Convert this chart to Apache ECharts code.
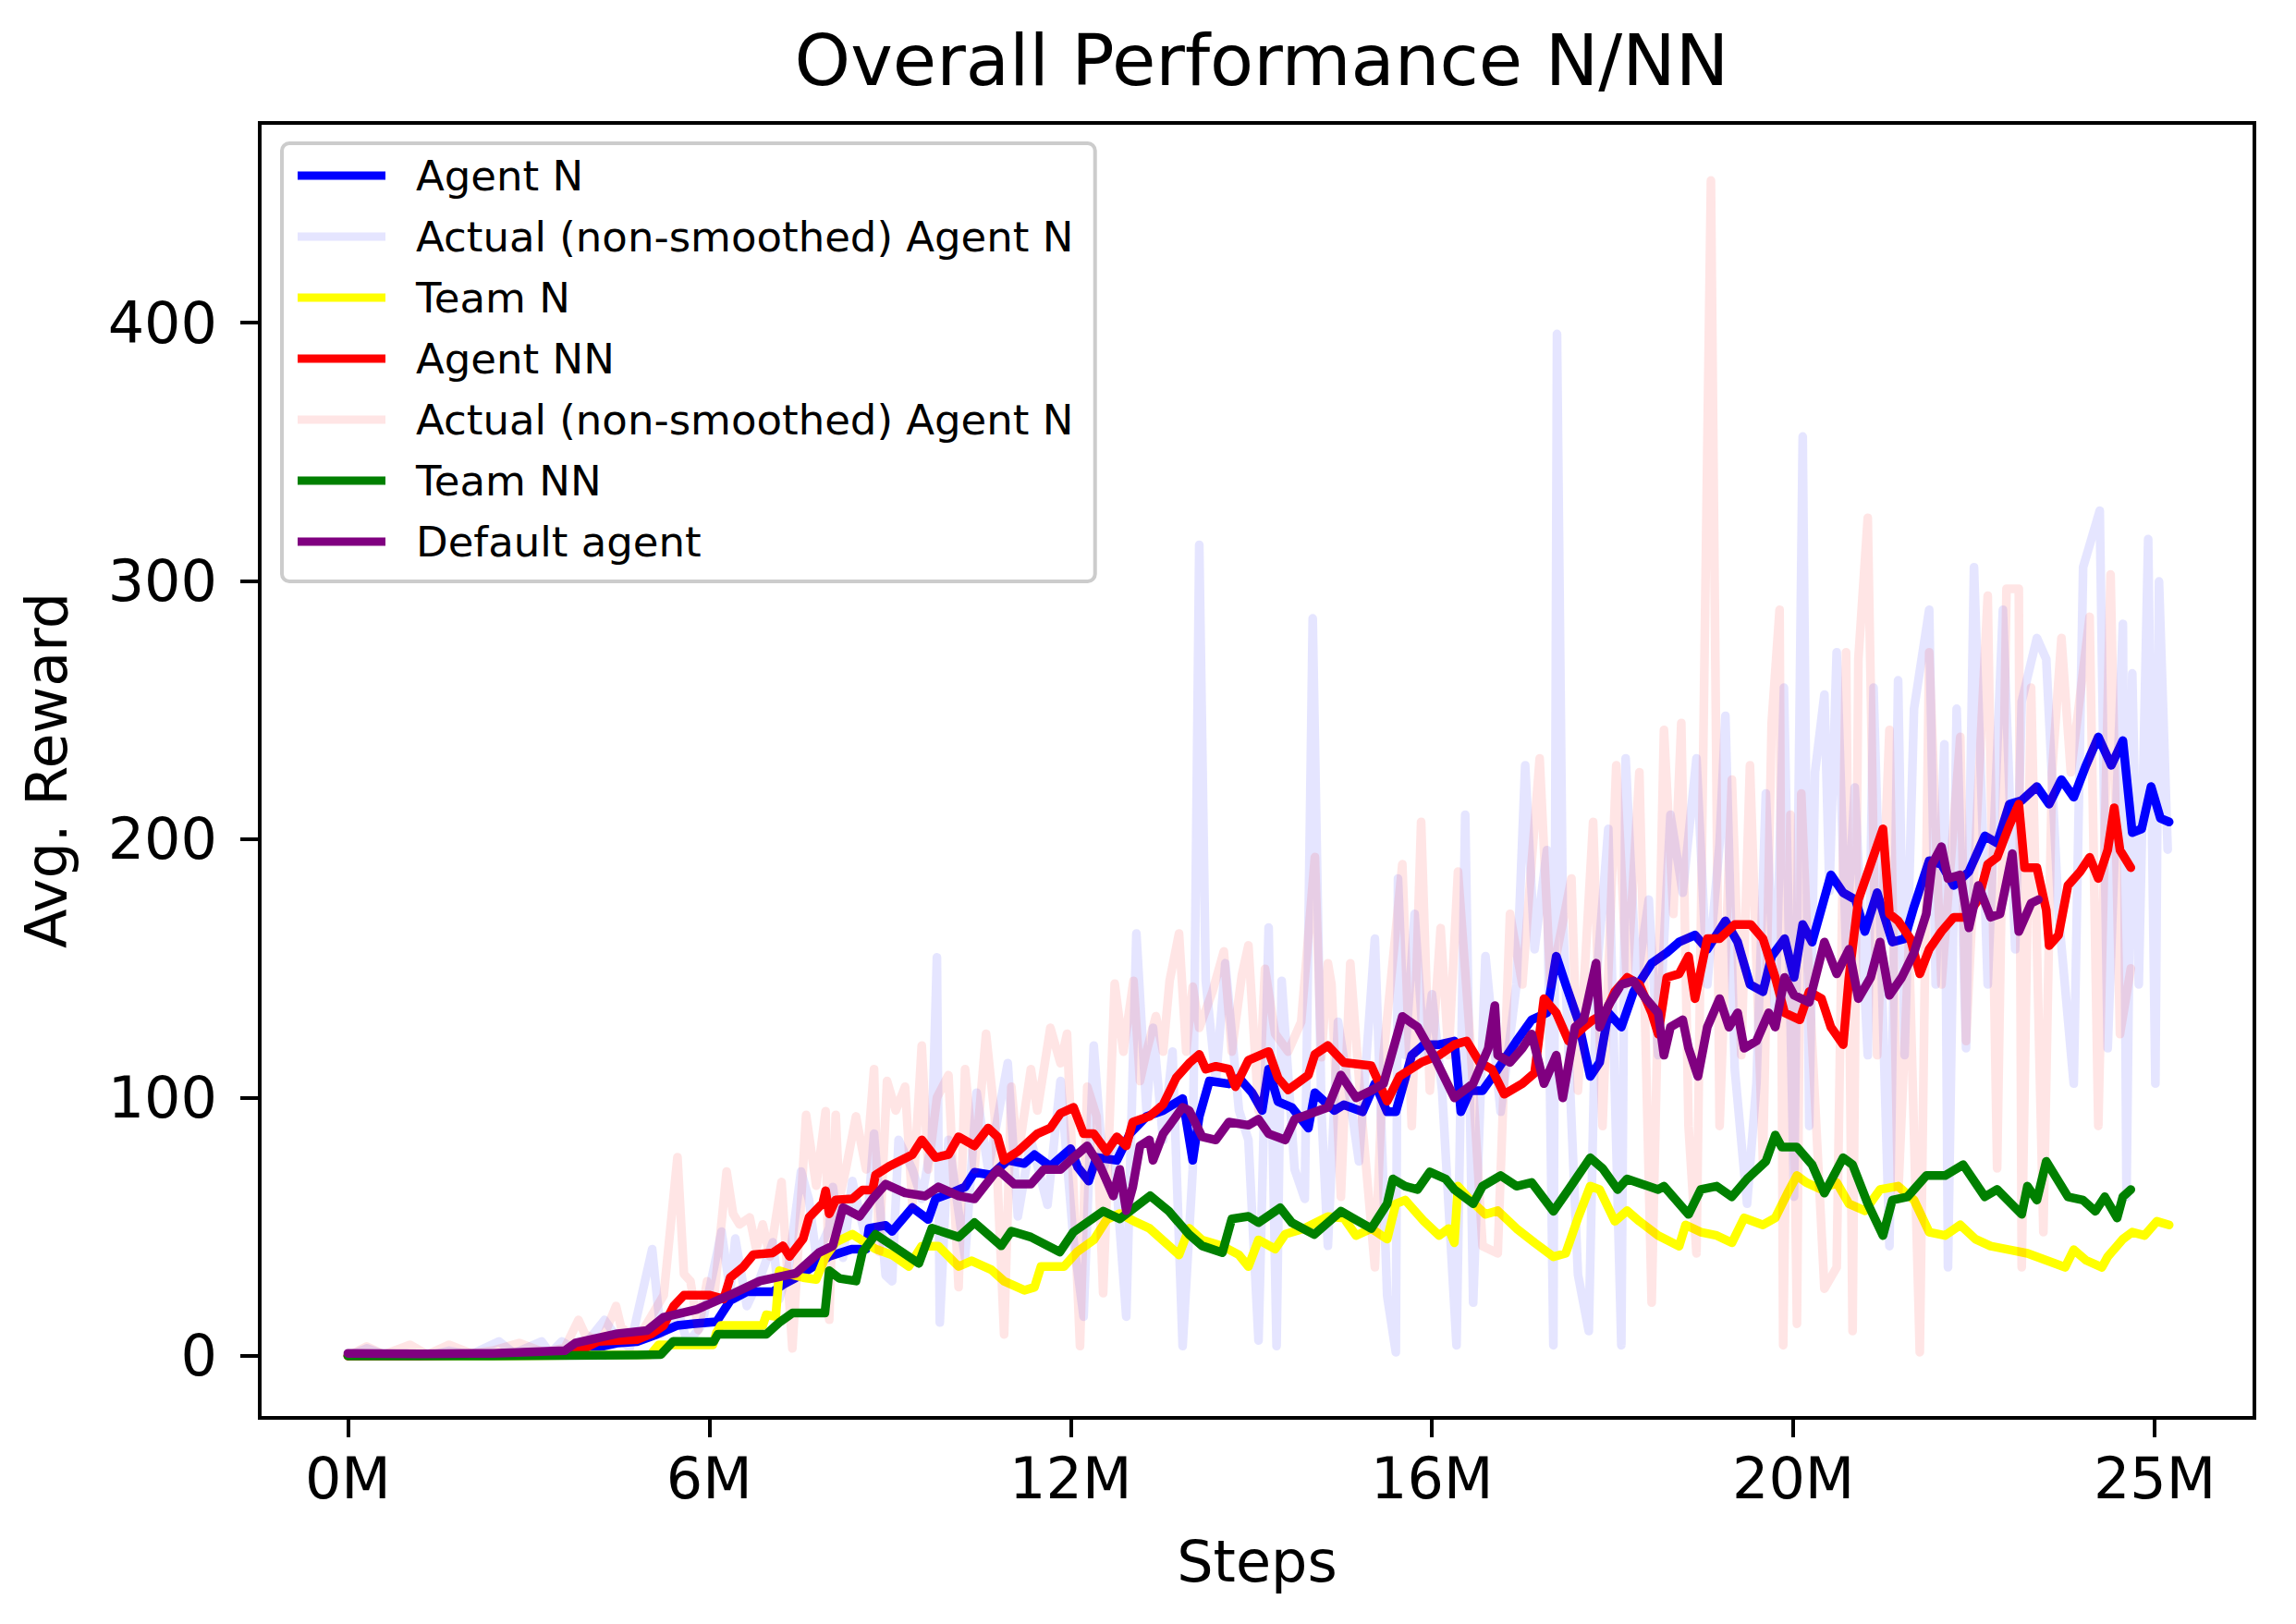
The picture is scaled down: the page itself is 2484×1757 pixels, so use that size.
<!DOCTYPE html>
<html>
<head>
<meta charset="utf-8">
<script src="https://cdn.jsdelivr.net/npm/echarts@6/dist/echarts.min.js"></script>
<style>
html,body{margin:0;padding:0;background:#fff;}
#chart{width:2484px;height:1757px;}
</style>
</head>
<body>
<div id="chart"></div>
<script>
const titleText = 'Overall Performance N/NN';
const xTickValues = [0, 50, 100, 150, 200, 250];
const xTickLabels = ['0M', '6M', '12M', '16M', '20M', '25M'];
const yTickValues = [0, 100, 200, 300, 400];

const agentN = [[0,0],[5,0.2],[10,0.3],[15,0.5],[20,0.8],[25,1],[30,1.5],[34,3],[37.4,5],[40,5.5],[42.8,8.4],[45.6,11.8],[48,12.5],[51,13.2],[52.9,21.4],[55.2,24.8],[58.8,24.8],[60.2,27.6],[62,30.3],[64.3,34.4],[66.6,38.5],[69.7,41.3],[71.7,41.4],[72.1,49.4],[74.4,50.5],[75.3,48.2],[78.1,57.4],[80.3,52.8],[81.3,60.8],[83.5,63.1],[85.4,65.4],[86.7,71.1],[89,70],[91.3,75.7],[93.6,74.5],[95,77.9],[97.2,73.4],[100,80.2],[101,73],[102.5,67.7],[103.6,76.8],[106.4,75.7],[108.2,86],[110.5,92.7],[112.8,95],[115.5,99.6],[116.9,75.7],[117.8,92.7],[119.2,106.4],[121.9,105.3],[123.3,107.6],[125.1,101.9],[126.5,95],[127.4,111],[128.7,98.4],[130.6,96.2],[132.9,88.2],[133.8,101.9],[136.5,95],[137.8,97.2],[140.4,94.5],[142.1,105.4],[143.8,94.5],[145,94.5],[147.2,116.4],[148.9,120.5],[151,120.5],[153.1,121.9],[154,94.5],[155.3,102.7],[157,102.7],[159.1,110.9],[161.7,121.9],[163.8,130.1],[165.9,132.8],[167.2,154.7],[168.5,143.8],[170.2,130.1],[171.9,108.2],[173.2,113.6],[174.4,132.8],[176.2,127.3],[177.9,141],[180.4,152],[182.5,156.1],[184.2,160.2],[186.4,162.9],[188.1,157.4],[190.6,168.4],[192.3,160.2],[194,143.8],[195.8,141],[197,154.7],[198.8,161.5],[200.1,146.5],[201.3,167],[202.6,160.2],[205.2,186.2],[206.9,179.3],[208.6,176.6],[209.9,164.3],[211.6,179.3],[213.7,160.2],[215.4,161.5],[216.7,173.9],[218.8,191.7],[220.5,190.3],[222.2,182.1],[224.3,187.5],[226.5,201.3],[228.2,198.5],[229.9,213.6],[231.6,215],[233.7,220.4],[235.4,213.6],[237.1,223.1],[238.8,216.3],[240.5,228.6],[242.2,239.6],[244,228.6],[245.6,238.2],[246.9,202.6],[248.2,204],[249.5,220.4],[250.8,208.1],[252,206.7]];

const actualN = [[0,0],[2.6,2.9],[5,0.5],[8,1],[11,0],[14,2],[17,0.5],[20.9,5.6],[23,1],[26.8,5.6],[28,1],[29.6,5.6],[32,1.5],[35.5,13.9],[36.9,8.4],[39,3],[42.1,41.3],[43.3,8.4],[45.6,18],[47,5],[49,12],[51.7,48.1],[52.9,24.8],[53.6,45.4],[55.2,19.3],[57,30],[58.8,44],[59.7,22],[61,35],[62.7,71.4],[63.8,60.4],[64.8,38.5],[66.6,49.5],[67.1,65.4],[68.5,38],[69.8,67.7],[71.7,44.8],[72.8,86],[74.4,31.2],[75.3,28.9],[76.2,83.6],[78.1,72.2],[79.4,60.8],[80.8,83.6],[81.5,154.3],[81.9,12.9],[83.1,83.6],[85.4,38],[87,101.9],[88.6,72.2],[91.3,113.3],[92.7,54],[94.5,83.6],[96.8,58.5],[98.6,106.4],[100.4,44.8],[101.8,15.2],[103.2,120.1],[104.5,72.2],[105.9,83.6],[107.7,15.2],[109.1,163.5],[110.5,95],[111.4,127],[112.8,83.6],[114.1,117.8],[115.5,3.8],[116.9,72.2],[117.8,314],[118.7,145.2],[120.1,106.4],[121.4,152],[123.3,95],[124.6,83.6],[126,6],[127.4,165.8],[128.5,3.8],[129.2,145.2],[131,72.2],[132.4,60.8],[133.5,285.5],[134.7,95],[135.6,42.6],[137,129.3],[138.3,106.4],[139.9,75.3],[142.1,161.5],[143.8,23.3],[145,1.4],[145.3,184.8],[146.3,116.4],[147.6,171.1],[148.9,116.4],[150,140],[151.4,102.7],[153.4,4.1],[154.6,209.5],[155.7,20.6],[157.4,154.7],[159.5,94.5],[161.7,143.8],[162.9,228.6],[164.2,157.4],[165.9,195.8],[166.8,4.1],[167.3,395.6],[168.1,171.1],[170.2,31.5],[171.7,9.6],[172.7,143.8],[174.4,204],[176.2,4.1],[176.8,231.3],[178.3,143.8],[180,176.6],[181.3,116.4],[183,209.5],[184.7,179.3],[186.6,231.3],[188.1,143.8],[189.8,198.5],[190.6,247.8],[191.9,110.9],[193.6,58.9],[194.9,105.4],[196.2,217.7],[197.5,130],[198.7,258.7],[200.1,61.6],[201.3,355.9],[202.2,89],[203,225.9],[204.3,256],[205,180],[206,272.4],[207.3,157.4],[208.5,220],[210.3,116.4],[211.1,258.7],[213.3,42.5],[214.5,261.5],[215.4,116.4],[216.7,250.5],[218.8,288.8],[219.7,143.8],[220.9,236.8],[221.4,34.3],[222.6,250.5],[223.9,119.1],[225,305.3],[226.9,143.8],[229,288.8],[230.7,157.4],[231.6,253.3],[233.7,277.9],[235,269.7],[236.7,171.1],[238.8,105.4],[240.1,305.3],[242.4,327.2],[243.5,119.1],[245.6,283.4],[246.1,61.6],[246.9,264.2],[247.8,143.8],[249.1,316.2],[250.1,105.4],[250.6,299.8],[251.8,196]];

const teamN = [[0,0],[20,0],[41.9,0.5],[43,4.3],[50.5,4.3],[51,9],[51.6,11.8],[57.4,11.8],[57.9,15.9],[59.2,15.2],[59.7,33],[61.1,31.7],[63,30.3],[64.8,29.6],[66.1,38.5],[67.5,44],[69.8,47.1],[73,41.4],[75.3,39.1],[77.6,34.6],[79.4,42.5],[81.7,42.5],[84.5,34.6],[86.3,36.8],[89,33.4],[90.8,28.9],[93.6,25.4],[95,26.6],[95.9,34.6],[99.1,34.6],[100.9,40.3],[103.2,44.9],[105,52.8],[106.8,55.1],[109.1,51.7],[110.9,49.4],[115,39.1],[116.4,49.4],[118.2,44.9],[121,42.5],[123.3,39.1],[124.6,34.6],[126,44.9],[128.3,41.4],[129.7,47.1],[132.4,49.4],[135.6,53.9],[137.8,53.4],[139.5,46.6],[141.6,49.3],[143.8,45.2],[145,58.9],[146.3,60.3],[148.9,52.1],[151,46.6],[152.3,49.3],[153.1,43.8],[153.6,65.7],[155.3,60.3],[157.4,54.8],[159.1,56.2],[161.7,49.3],[164.2,43.8],[166.8,38.4],[168.5,39.7],[170.2,53.4],[171.9,65.7],[173.2,64.4],[175.3,52.1],[177,56.2],[178.7,52.1],[181.3,46.6],[184.2,42.5],[185.1,50.7],[187.2,47.9],[189.4,46.6],[191.5,43.8],[193.2,53.4],[195.8,50.7],[197.5,53.4],[199.2,63],[200.5,69.8],[201.8,67.1],[203.9,64.4],[206,67.1],[207.7,58.9],[209.9,56.2],[212,64.4],[214.5,65.7],[216.7,60.3],[218.8,47.9],[221,46.6],[223.1,50.7],[225.2,45.2],[227.3,42.5],[229.9,41.1],[232.4,39.7],[235,37],[237.6,34.3],[238.8,41.1],[240.5,37],[242.7,34.3],[243.5,38.4],[245.6,45.2],[246.9,47.9],[248.6,46.6],[250.3,52.1],[252,50.7]];

const agentNN = [[0,0],[10,0],[20,0.5],[30,1.5],[32.8,3],[34.6,5.6],[40,6.3],[41.9,8.4],[43.7,11.8],[45.1,19.4],[46.5,23.5],[50.1,23.5],[52,22],[52.9,30.3],[54.7,34.4],[56.1,39.2],[58.8,39.9],[60.2,42.6],[61.1,38.5],[63,45.4],[63.8,53.6],[65.7,59.1],[66.1,63.9],[66.6,55],[67.5,60.4],[69.8,60.8],[71.2,64.2],[72.6,64.2],[73,70],[74.9,73.4],[78.1,77.9],[79.4,83.6],[81.3,76.8],[83.1,77.9],[84.5,84.8],[86.7,81.3],[88.6,88.2],[89.9,84.8],[90.8,75.7],[92.7,79.1],[95.4,86],[97.2,88.2],[98.6,93.9],[100.4,96.2],[101.8,86],[103.2,86],[105,79.1],[106.4,84.8],[107.7,81.3],[108.6,90.5],[110.9,92.7],[112.8,97.3],[114.6,107.6],[116.4,113.3],[117.8,116.7],[118.7,111],[120.1,112.1],[121.9,111],[122.8,104.2],[124.6,114.4],[127.4,117.8],[128.7,107.6],[130.1,103],[132.9,108.7],[133.8,116.7],[135.6,120.1],[137.8,113.6],[141.6,112.3],[143.8,98.6],[145.5,108.2],[148.5,113.6],[151,116.4],[153.1,120.5],[154.8,121.9],[156.6,113.6],[158.3,110.9],[160,101.3],[162.5,105.4],[164.2,109.5],[165.5,138.3],[167.2,132.8],[168.9,121.9],[171,127.3],[172.3,130.1],[174,132.8],[175.3,141],[177,146.5],[178.7,143.8],[180.4,132.8],[181.3,124.6],[182.5,146.5],[184.2,147.9],[185.5,154.7],[186.4,138.3],[188.1,161.5],[189.8,161.5],[191.9,167],[194.1,167],[195.8,161.5],[197.5,146.5],[198.8,132.8],[200.9,130.1],[202.2,141],[203.9,138.3],[205.2,127.3],[206.9,120.5],[207.7,146.5],[209,176.6],[210.7,190.3],[212.4,204],[213.3,171.1],[214.5,168.4],[216.2,161.5],[217.5,147.9],[218.8,157.4],[220.5,164.3],[222.2,169.8],[223.9,169.8],[225.6,176.6],[226.9,190.3],[228.2,193],[229.9,205.4],[231.2,213.6],[232,189],[233.7,189],[235,172.5],[235.4,158.8],[236.7,162.9],[238,182.1],[239.7,187.5],[241,193],[242.2,184.8],[243.5,195.8],[244.4,212.2],[245.2,195.8],[246.7,189]];

const actualNN = [[0,0],[2.6,3.6],[5,0.5],[8.6,4.3],[11,0.5],[14,4.3],[17,1],[20,2],[23.7,5],[27,1.5],[30,3],[31.9,13.9],[32.8,8.4],[35,5],[37.1,19.3],[37.8,11.1],[40,6],[43.7,23.5],[45.6,76.9],[46.5,31.7],[47.4,28.9],[48.5,10],[49.7,28.9],[50.6,20.7],[52.4,71.4],[53.3,55],[54.2,50.9],[55.6,53.6],[56.5,41.3],[57.4,50.9],[58.4,38.5],[60,67.3],[61.5,2.9],[63.4,93.3],[64.8,65.9],[66.1,94.7],[66.6,14],[67.5,93.3],[68,60.8],[68.9,72.2],[70.3,92.7],[71.7,72.2],[72.8,111],[73.5,40.3],[74.6,106.4],[75.8,95],[77.1,104.2],[78.1,58.5],[79.4,120.1],[80.3,72.2],[81.5,100],[83.1,108.7],[84.5,26.6],[85.4,111],[86.7,72.2],[88.3,124.7],[89.5,92.7],[90.8,8.3],[91.8,104.2],[92.7,76.8],[94.5,111],[95.4,95],[97.2,127],[98.6,113.3],[99.5,124.7],[101.3,3.8],[102.3,104.2],[103.6,92.7],[104.5,24.3],[106.1,144.1],[107.3,117.8],[108.7,145.2],[109.6,106.4],[110.5,117.8],[111.8,131.5],[112.8,117.8],[113.7,145.2],[115,163.5],[116,117.8],[116.9,142.9],[117.8,127],[119.6,140.7],[121.2,156.6],[122.3,117.8],[123.7,147.5],[124.6,158.9],[126,95],[126.9,149.8],[128.3,124.7],[130.1,117.8],[131.9,129.3],[133.8,193.1],[134.7,115.6],[135.6,152],[136.1,143.8],[137.4,61.6],[138.7,152],[140.4,89],[142.1,34.3],[143.3,116.4],[145.9,190.3],[147.2,89],[148.5,206.7],[149.7,102.7],[151.2,165.6],[152.3,116.4],[153.6,187.5],[155.3,121.9],[157,42.5],[159.1,39.7],[160.8,171.1],[162.5,143.8],[164.9,231.3],[166.4,143.8],[169.3,184.8],[170.2,102.7],[172.3,206.7],[173.6,89],[175.5,228.6],[177,143.8],[178.7,225.9],[180.4,20.6],[182.1,242.3],[183.4,171.1],[184.5,245],[185.5,89],[186.6,39.7],[188.6,455],[189.8,89],[191.5,223.1],[192.8,116.4],[194,228.6],[195.8,75.3],[197,245],[198.1,288.8],[198.6,4.1],[199.6,209.5],[200.5,12.4],[201.1,217.7],[202.2,143.8],[204.3,26],[206,34.3],[207.3,272.4],[208.2,9.6],[209,269.7],[210.3,324.4],[211.6,116.4],[213.3,242.3],[214.5,61.6],[216,160],[217.5,1.4],[218.8,272.4],[220.5,143.8],[223.1,239.6],[223.9,121.9],[226.9,294.3],[228.2,72.6],[229.5,297],[231.2,297],[231.6,34.3],[232.9,258.7],[234.6,47.9],[235.8,225.9],[237.1,277.9],[238.4,225.9],[241,286.1],[242.2,89],[243.9,302.5],[245.2,124.6],[246.7,150]];

const teamNN = [[0,0],[20,0],[40,0.3],[43.3,0.5],[45,5.6],[50.6,5.5],[51.2,8.4],[57.9,8.4],[59.8,13.2],[61.5,16.6],[66,16.6],[66.6,33],[68,30],[70.3,29],[71.2,40.2],[73,47],[75.4,42.6],[79,35.8],[80.8,49.4],[84.5,46],[86.7,51.6],[90.4,42.6],[91.8,48.3],[94.5,46],[98.5,40.2],[100.4,48],[104.5,56],[106.8,53],[111,62],[113.6,56],[116.4,47],[118.2,42.6],[121,40],[122.3,53],[124.6,54],[126,51.6],[129,57.3],[130.6,51.6],[133.7,47],[135.6,51.6],[137.4,56],[139,53.4],[141.6,49.3],[143.8,58.9],[144.6,68.5],[146.3,65.7],[148,64.4],[149.7,71.2],[151.9,68.5],[153.1,64.4],[155.7,58.9],[157,65.7],[159.5,69.8],[161.7,65.7],[163.8,67.1],[166.8,56],[168.9,64.4],[171.9,76.7],[173.6,72.6],[175.7,64.4],[177,68.5],[181.3,64.4],[182.1,65.7],[185.5,54.8],[187.2,64.4],[189.4,65.7],[191.5,61.6],[193.6,68.5],[196.2,75.3],[197.5,85.5],[198.4,80.8],[200.5,80.8],[202.6,74],[204.3,63],[206.9,76.7],[208.2,74],[210.3,58.9],[212.4,46.6],[213.7,60.3],[215.8,61.6],[218.4,69.8],[221,69.8],[223.5,74],[226.5,61.6],[228.2,64.4],[231.6,54.8],[232.4,65.7],[233.7,60.3],[235,75.3],[238,61.6],[240.1,60.3],[241.8,56],[243.1,61.6],[244.8,53.4],[245.6,61.6],[246.7,64.4]];

const defaultAgent = [[0,1],[10,0.8],[20,1],[30,2],[31.5,5],[37.3,8.6],[41.4,9.8],[43.7,15],[48.3,18],[52.9,23.6],[57,29],[62,32],[65.2,40],[67.1,42.6],[68.5,57.4],[70.8,54],[72.6,60.8],[74.4,66.5],[77.1,63.1],[79.9,61.9],[81.7,65.4],[84.5,61.9],[86.7,60.8],[89.9,72.2],[92.2,66.5],[94.5,66.5],[96.3,72.2],[98.6,72.2],[100.4,76.8],[102.3,81.3],[104.1,73.4],[105.9,61.9],[106.8,72.2],[107.7,56.2],[108.6,65.4],[109.6,81.3],[110.9,83.6],[111.4,75.7],[112.8,86],[113.7,89.3],[115.5,96.2],[116.4,95],[118.2,84.8],[120.1,83.6],[121.9,90.5],[124.6,89.3],[126,91.6],[127.4,86],[129.7,83.6],[131,91.6],[133.3,93.9],[135.6,96.2],[137.4,108.7],[139.5,99.9],[141.6,102.7],[143.3,105.4],[145.9,131.4],[148,127.3],[150.2,116.4],[153.1,99.9],[155.7,105.4],[157.8,119.1],[158.7,135.6],[159.1,116.4],[160.8,113.6],[162.5,119.1],[163.8,124.6],[165.5,105.4],[167.2,116.4],[168.1,99.9],[169.8,127.3],[171,130.1],[172.7,152],[173.2,127.3],[174.4,135.6],[176.2,143.8],[177.9,145.1],[179.6,138.3],[181.3,132.8],[182.1,116.4],[183,127.3],[184.7,130.1],[185.5,119.1],[186.8,108.2],[188.1,127.3],[189.8,138.3],[191.1,127.3],[192.3,132.8],[193.2,119.1],[194.9,121.9],[196.6,132.8],[197.5,127.3],[198.8,146.5],[200.1,139.6],[202.2,136.9],[204.3,160.2],[206,147.9],[207.7,157.4],[209,138.3],[210.7,146.5],[212,160.2],[213.3,139.6],[215,146.5],[216.7,156.1],[218.4,171.1],[219.2,190.3],[220.5,197.1],[221.4,184.8],[223.1,186.2],[224.3,165.7],[225.6,182.1],[227.3,169.8],[228.6,171.1],[230.3,194.4],[231.2,164.3],[232.9,175.2],[233.9,176.6]];

const seriesNames = ['Agent N', 'Actual (non-smoothed) Agent N', 'Team N', 'Agent NN', 'Actual (non-smoothed) Agent N ', 'Team NN', 'Default agent'];
const seriesColors = ['#0000ff', 'rgba(0,0,255,0.1)', '#ffff00', '#ff0000', 'rgba(255,0,0,0.1)', '#008000', '#800080'];
const seriesData = [agentN, actualN, teamN, agentNN, actualNN, teamNN, defaultAgent];

const FONT = 'DejaVu Sans';
const TICK_LEN = 21;
const chart = echarts.init(document.getElementById('chart'), null, {renderer: 'svg', width: 2484, height: 1757});

const option = {
  animation: false,
  backgroundColor: '#ffffff',
  title: {
    text: titleText,
    left: 1360,
    top: 22,
    textAlign: 'center',
    textStyle: {fontFamily: FONT, fontSize: 77, fontWeight: 'normal', color: '#000'}
  },
  grid: {
    left: 281, top: 133, width: 2158, height: 1401,
    show: true, borderColor: '#000', borderWidth: 4, backgroundColor: 'transparent'
  },
  legend: {
    orient: 'vertical',
    left: 305, top: 155,
    padding: [10, 9, 18, 17],
    itemWidth: 95, itemHeight: 9, itemGap: 16,
    icon: 'rect',
    backgroundColor: 'rgba(255,255,255,0.8)',
    borderColor: '#cccccc', borderWidth: 4, borderRadius: 8,
    textStyle: {fontFamily: FONT, fontSize: 45, lineHeight: 50, color: '#000', padding: [0, 0, 0, 28]},
    data: seriesNames
  },
  xAxis: {
    type: 'value',
    position: 'bottom',
    min: -12.2, max: 263.8,
    name: 'Steps',
    nameLocation: 'middle',
    nameGap: 124,
    nameTextStyle: {fontFamily: FONT, fontSize: 62, color: '#000'},
    axisLine: {show: true, onZero: false, lineStyle: {color: '#000', width: 4}},
    axisTick: {show: true, inside: false, customValues: xTickValues, length: TICK_LEN, lineStyle: {color: '#000', width: 4}},
    axisLabel: {
      customValues: xTickValues,
      margin: 34,
      fontFamily: FONT, fontSize: 62, color: '#000',
      formatter: function (v) { const i = xTickValues.indexOf(v); return i >= 0 ? xTickLabels[i] : ''; }
    },
    splitLine: {show: false}
  },
  yAxis: {
    type: 'value',
    position: 'left',
    min: -24, max: 477.3,
    name: 'Avg. Reward',
    nameLocation: 'middle',
    nameGap: 200,
    nameTextStyle: {fontFamily: FONT, fontSize: 62, color: '#000'},
    axisLine: {show: true, onZero: false, lineStyle: {color: '#000', width: 4}},
    axisTick: {show: true, inside: false, customValues: yTickValues, length: TICK_LEN, lineStyle: {color: '#000', width: 4}},
    axisLabel: {
      customValues: yTickValues,
      margin: 46,
      fontFamily: FONT, fontSize: 62, color: '#000'
    },
    splitLine: {show: false}
  },
  series: seriesNames.map(function (name, i) {
    return {
      name: name,
      type: 'line',
      data: seriesData[i],
      showSymbol: false,
      symbol: 'none',
      color: seriesColors[i],
      itemStyle: {color: seriesColors[i]},
      lineStyle: {color: seriesColors[i], width: 9.5, join: 'round', cap: 'round'},
      emphasis: {disabled: true},
      silent: true,
      clip: true
    };
  })
};
chart.setOption(option);
</script>
</body>
</html>
